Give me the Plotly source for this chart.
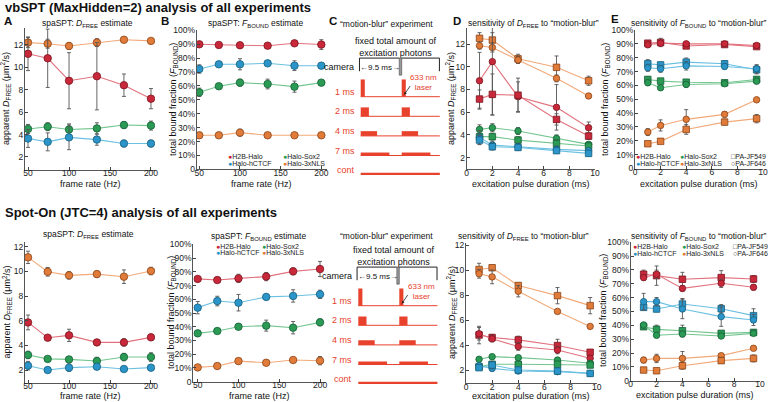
import plotly.graph_objects as go

W, H = 768, 402
FONT = "Liberation Sans, Arial, Helvetica, sans-serif"

# ---------------- data ----------------
frame_rate_hz = [50, 74, 100, 134, 167, 200]
pulse_ms = [1, 2, 4, 7, 9.5]
frame_ticks = [50, 100, 150, 200]
pulse_ticks = [0, 2, 4, 6, 8, 10]
dfree_ticks = [2, 4, 6, 8, 10, 12]
frac_ticks = [0, 10, 20, 30, 40, 50, 60, 70, 80, 90, 100]
frac_ticktext = ["0", "10%", "20%", "30%", "40%", "50%", "60%", "70%", "80%", "90%", "100%"]

# vbSPT, panel A (D_FREE, um^2/s)
vbA_h2b = [11.2, 10.8, 8.8, 9.2, 8.4, 7.2];        vbA_h2b_err = [1.5, 2.6, 2.5, 3.0, 1.0, 0.9]
vbA_nls = [12.2, 12.1, 11.9, 12.2, 12.45, 12.35];  vbA_nls_err = [0.45, 0.4, 0.3, 0.35, 0.15, 0.1]
vbA_sox = [4.5, 4.7, 4.45, 4.55, 4.85, 4.8];       vbA_sox_err = [0.4, 0.35, 0.5, 0.5, 0.3, 0.4]
vbA_ctcf = [3.65, 3.35, 3.75, 3.55, 3.2, 3.2];     vbA_ctcf_err = [0.8, 0.8, 1.1, 0.5, 0.3, 0.3]
# vbSPT, panel B (F_BOUND, %)
vbB_h2b = [90, 89.5, 89.3, 89, 90.7, 89.8];        vbB_h2b_err = [1, 1, 1, 2, 1, 3.5]
vbB_ctcf = [72.2, 75.6, 75.6, 76.3, 74.6, 74.6];   vbB_ctcf_err = [3, 1.5, 4, 1, 3.5, 2]
vbB_sox = [55.4, 59.8, 62.4, 61.4, 59.5, 62.4];    vbB_sox_err = [3, 1, 2.5, 3.5, 4, 1.5]
vbB_nls = [24.5, 24.5, 26.4, 24.5, 24.5, 24.5];    vbB_nls_err = [0.5, 0.5, 2.5, 0.5, 0.5, 0.5]
# vbSPT, panel D (D_FREE vs pulse)  sq = PA-JF549, ci = PA-JF646
vbD_nls_sq = [12.5, 12.35, 10.7, 9.95, 8.77];  vbD_nls_sq_err = [0.5, 0.65, 0.4, 1.0, 0.4]
vbD_nls_ci = [11.85, 11.7, 10.6, 8.98, 7.43];  vbD_nls_ci_err = [0.3, 0.4, 0.3, 0.3, 0.15]
vbD_h2b_ci = [8.77, 10.45, 7.37, 6.43, 4.64];  vbD_h2b_ci_err = [2.5, 4.7, 1.3, 2.0, 0.5]
vbD_h2b_sq = [7.16, 7.57, 7.5, 5.37, 3.9];     vbD_h2b_sq_err = [0.8, 1.8, 1.5, 0.5, 0.3]
vbD_sox_ci = [4.49, 4.64, 4.35, 3.7, 3.17];    vbD_sox_ci_err = [0.4, 0.35, 0.3, 0.3, 0.2]
vbD_sox_sq = [3.85, 3.85, 3.55, 3.26, 3.03];   vbD_sox_sq_err = [0.3, 0.3, 0.3, 0.3, 0.2]
vbD_ctcf_ci = [3.79, 3.11, 2.97, 2.73, 2.62];  vbD_ctcf_ci_err = [0.6, 0.3, 0.3, 0.3, 0.2]
vbD_ctcf_sq = [3.55, 2.97, 2.9, 2.62, 2.38];   vbD_ctcf_sq_err = [0.4, 0.3, 0.2, 0.2, 0.2]
# vbSPT, panel E (F_BOUND vs pulse)
vbE_h2b_sq = [90.5, 91, 88.5, 89.5, 88.0];     vbE_h2b_sq_err = [1.5, 3, 1.5, 1.5, 1]
vbE_h2b_ci = [89.3, 90.5, 90, 90, 88.8];       vbE_h2b_ci_err = [1.5, 1, 1.5, 1.5, 1.5]
vbE_ctcf_sq = [75.6, 74.8, 76.8, 75.6, 71.3];  vbE_ctcf_sq_err = [3, 2, 3, 2, 3]
vbE_ctcf_ci = [72.7, 72, 74.1, 73.7, 72];      vbE_ctcf_ci_err = [2.5, 2.5, 3, 2, 3]
vbE_sox_sq = [64.3, 63.1, 62.3, 61.9, 64.3];   vbE_sox_sq_err = [2, 1.5, 2, 1.5, 2]
vbE_sox_ci = [61.9, 58.3, 60.7, 61.2, 63.1];   vbE_sox_ci_err = [2, 1.5, 2, 1, 2]
vbE_nls_ci = [26.3, 31.1, 35.5, 39.1, 49.6];   vbE_nls_ci_err = [2.5, 4, 7, 2, 1]
vbE_nls_sq = [17.9, 19.6, 28.2, 33.5, 36];     vbE_nls_sq_err = [1, 1, 3.5, 2, 3]

# Spot-On, panel A
soA_nls = [11.14, 9.97, 9.68, 9.78, 9.57, 10.03];  soA_nls_err = [0.5, 0.35, 0.3, 0.25, 0.55, 0.3]
soA_h2b = [5.86, 4.62, 4.81, 4.24, 4.24, 4.65];    soA_h2b_err = [0.6, 0.1, 0.5, 0.2, 0.3, 0.25]
soA_sox = [3.22, 2.9, 2.86, 2.73, 3.05, 3.05];     soA_sox_err = [0.3, 0.2, 0.2, 0.3, 0.3, 0.35]
soA_ctcf = [2.35, 2.0, 2.19, 2.27, 2.08, 2.19];    soA_ctcf_err = [0.35, 0.2, 0.3, 0.2, 0.15, 0.15]
# Spot-On, panel B
soB_h2b = [74.8, 74, 75.2, 76.5, 80.3, 82];        soB_h2b_err = [1.5, 1.5, 3, 3, 2.5, 5.5]
soB_ctcf = [53.9, 58.7, 57.5, 61.7, 62.4, 63.6];   soB_ctcf_err = [4.5, 3.5, 6, 2, 4.5, 3]
soB_sox = [35.2, 36.9, 40, 40.8, 39.3, 43.2];      soB_sox_err = [2, 1, 2, 4, 4.5, 2.5]
soB_nls = [10.4, 11.4, 15, 13.8, 15.8, 15.3];      soB_nls_err = [1, 1.5, 2, 1, 1.5, 3]
# Spot-On, panel D
soD_nls_sq = [10.04, 10.18, 8.76, 7.95, 7.15]; soD_nls_sq_err = [0.5, 0.2, 0.2, 0.65, 0.65]
soD_nls_ci = [9.7, 9.45, 8.3, 6.69, 5.49];     soD_nls_ci_err = [0.35, 0.55, 0.45, 0.1, 0.1]
soD_h2b_sq = [4.8, 4.6, 4.41, 3.96, 3.42];     soD_h2b_sq_err = [0.7, 0.25, 0.3, 0.5, 0.2]
soD_h2b_ci = [4.9, 4.5, 3.88, 3.6, 2.94];      soD_h2b_ci_err = [0.5, 0.25, 0.3, 0.3, 0.2]
soD_sox_ci = [2.86, 3.07, 2.99, 2.8, 2.54];    soD_sox_ci_err = [0.15, 0.15, 0.15, 0.15, 0.1]
soD_sox_sq = [2.27, 2.46, 2.46, 2.46, 2.4];    soD_sox_sq_err = [0.15, 0.15, 0.15, 0.15, 0.1]
soD_ctcf_ci = [2.35, 2.13, 1.92, 1.87, 1.73];  soD_ctcf_ci_err = [0.2, 0.2, 0.15, 0.15, 0.1]
soD_ctcf_sq = [2.19, 2.4, 2.0, 1.92, 1.73];    soD_ctcf_sq_err = [0.2, 0.3, 0.15, 0.15, 0.1]
# Spot-On, panel E
soE_h2b_sq = [76.9, 75.9, 73.3, 74.5, 73.5];   soE_h2b_sq_err = [3, 7, 5, 5, 2.5]
soE_h2b_ci = [74.5, 76.9, 66.7, 70.4, 67.5];   soE_h2b_ci_err = [2, 3, 2, 3, 2]
soE_ctcf_sq = [53, 51.8, 55.4, 52, 47];        soE_ctcf_sq_err = [2, 2, 4, 3, 5]
soE_ctcf_ci = [57.1, 57.1, 51.8, 46.3, 43.9];  soE_ctcf_ci_err = [6, 3, 7, 7, 4]
soE_sox_sq = [39, 37.1, 36.1, 34.2, 34.9];     soE_sox_sq_err = [1.5, 3, 4, 2, 2]
soE_sox_ci = [40.2, 32.8, 33.7, 32.3, 34.2];   soE_sox_ci_err = [2, 1, 2, 1.5, 1.5]
soE_nls_ci = [14.9, 16.1, 16.1, 18.1, 23.4];   soE_nls_ci_err = [2, 3, 5, 1, 1.5]
soE_nls_sq = [7.7, 7.2, 10.8, 14.5, 16.1];     soE_nls_sq_err = [1, 1.5, 2.5, 2, 2.5]

# motion-blur schematic
schematic_pulses_ms = [1, 2, 4, 7]
schematic_labels = ["1 ms", "2 ms", "4 ms", "7 ms", "cont"]
frame_period_ms = 10.0
exposure_ms = 9.5
n_frames = 2

# ---------------- style ----------------
FILL = {"h2b": "#c9283a", "ctcf": "#2b94c8", "sox": "#2a9a55", "nls": "#e07b39"}
EDGE = {"h2b": "#7a1520", "ctcf": "#15607f", "sox": "#156035", "nls": "#8a4418"}
LINE = {"h2b": "#e2727e", "ctcf": "#6cc0e2", "sox": "#74c690", "nls": "#f2aa7a"}
PULSE = "#e8412c"
TICK = 8.5

fig = go.Figure()


def px_x(a, b):
    return [a / W, b / W]


def px_y(top, bottom):
    return [1 - bottom / H, 1 - top / H]


def add(ax, x, y, err, key, symbol="circle", size=7.5):
    fig.add_trace(go.Scatter(
        x=x, y=y, mode="lines+markers", xaxis="x" + ax, yaxis="y" + ax,
        line=dict(color=LINE[key], width=1.1),
        marker=dict(symbol=symbol, size=size, color=FILL[key], line=dict(color=EDGE[key], width=0.8)),
        error_y=dict(type="data", array=err, color="#555555", thickness=0.9, width=2),
        showlegend=False, hoverinfo="skip", cliponaxis=True))


# top A
for y, e, k in [(vbA_nls, vbA_nls_err, "nls"), (vbA_h2b, vbA_h2b_err, "h2b"),
                (vbA_sox, vbA_sox_err, "sox"), (vbA_ctcf, vbA_ctcf_err, "ctcf")]:
    add("", frame_rate_hz, y, e, k)
# top B
for y, e, k in [(vbB_h2b, vbB_h2b_err, "h2b"), (vbB_ctcf, vbB_ctcf_err, "ctcf"),
                (vbB_sox, vbB_sox_err, "sox"), (vbB_nls, vbB_nls_err, "nls")]:
    add("2", frame_rate_hz, y, e, k)
# top D
for y, e, k, s in [(vbD_nls_sq, vbD_nls_sq_err, "nls", "square"), (vbD_nls_ci, vbD_nls_ci_err, "nls", "circle"),
                   (vbD_h2b_ci, vbD_h2b_ci_err, "h2b", "circle"), (vbD_h2b_sq, vbD_h2b_sq_err, "h2b", "square"),
                   (vbD_sox_ci, vbD_sox_ci_err, "sox", "circle"), (vbD_sox_sq, vbD_sox_sq_err, "sox", "square"),
                   (vbD_ctcf_ci, vbD_ctcf_ci_err, "ctcf", "circle"), (vbD_ctcf_sq, vbD_ctcf_sq_err, "ctcf", "square")]:
    add("3", pulse_ms, y, e, k, s, 6.5)
# top E
for y, e, k, s in [(vbE_h2b_sq, vbE_h2b_sq_err, "h2b", "square"), (vbE_h2b_ci, vbE_h2b_ci_err, "h2b", "circle"),
                   (vbE_ctcf_sq, vbE_ctcf_sq_err, "ctcf", "square"), (vbE_ctcf_ci, vbE_ctcf_ci_err, "ctcf", "circle"),
                   (vbE_sox_sq, vbE_sox_sq_err, "sox", "square"), (vbE_sox_ci, vbE_sox_ci_err, "sox", "circle"),
                   (vbE_nls_ci, vbE_nls_ci_err, "nls", "circle"), (vbE_nls_sq, vbE_nls_sq_err, "nls", "square")]:
    add("4", pulse_ms, y, e, k, s, 6.5)
# bottom A
for y, e, k in [(soA_nls, soA_nls_err, "nls"), (soA_h2b, soA_h2b_err, "h2b"),
                (soA_sox, soA_sox_err, "sox"), (soA_ctcf, soA_ctcf_err, "ctcf")]:
    add("5", frame_rate_hz, y, e, k)
# bottom B
for y, e, k in [(soB_h2b, soB_h2b_err, "h2b"), (soB_ctcf, soB_ctcf_err, "ctcf"),
                (soB_sox, soB_sox_err, "sox"), (soB_nls, soB_nls_err, "nls")]:
    add("6", frame_rate_hz, y, e, k)
# bottom D
for y, e, k, s in [(soD_nls_sq, soD_nls_sq_err, "nls", "square"), (soD_nls_ci, soD_nls_ci_err, "nls", "circle"),
                   (soD_h2b_sq, soD_h2b_sq_err, "h2b", "square"), (soD_h2b_ci, soD_h2b_ci_err, "h2b", "circle"),
                   (soD_sox_ci, soD_sox_ci_err, "sox", "circle"), (soD_sox_sq, soD_sox_sq_err, "sox", "square"),
                   (soD_ctcf_ci, soD_ctcf_ci_err, "ctcf", "circle"), (soD_ctcf_sq, soD_ctcf_sq_err, "ctcf", "square")]:
    add("7", pulse_ms, y, e, k, s, 6.5)
# bottom E
for y, e, k, s in [(soE_h2b_sq, soE_h2b_sq_err, "h2b", "square"), (soE_h2b_ci, soE_h2b_ci_err, "h2b", "circle"),
                   (soE_ctcf_sq, soE_ctcf_sq_err, "ctcf", "square"), (soE_ctcf_ci, soE_ctcf_ci_err, "ctcf", "circle"),
                   (soE_sox_sq, soE_sox_sq_err, "sox", "square"), (soE_sox_ci, soE_sox_ci_err, "sox", "circle"),
                   (soE_nls_ci, soE_nls_ci_err, "nls", "circle"), (soE_nls_sq, soE_nls_sq_err, "nls", "square")]:
    add("8", pulse_ms, y, e, k, s, 6.5)

# ---------------- axes ----------------
def axis(domain, rng, tickvals, anchor, ticktext=None, standoff=0):
    d = dict(domain=domain, range=rng, tickvals=tickvals, anchor=anchor,
             ticks="inside", ticklen=3, tickwidth=0.8, tickcolor="#444",
             showline=True, linecolor="#555", linewidth=1, showgrid=False, zeroline=False,
             tickfont=dict(size=TICK, color="#222", family=FONT), automargin=False, fixedrange=True,
             ticklabelstandoff=standoff)
    if ticktext is not None:
        d["ticktext"] = ticktext
    return d


layout_axes = {}
specs = [
    ("", (25, 155), (28, 170), [46.3, 204.9], [0.84, 13.5], frame_ticks, dfree_ticks, None),
    ("2", (196.7, 326.7), (30.4, 169.3), [46.8, 206.6], [0, 100], frame_ticks, frac_ticks, frac_ticktext),
    ("3", (466.7, 595), (28, 169.3), [0, 10], [0.98, 13.41], pulse_ticks, dfree_ticks, None),
    ("4", (635, 763), (30, 168.5), [0, 10], [0, 100], pulse_ticks, frac_ticks, frac_ticktext),
    ("5", (25, 155), (241.7, 382.7), [46.3, 204.9], [0.97, 12.41], frame_ticks, dfree_ticks, None),
    ("6", (193.3, 325), (244.3, 381.7), [44.6, 206.1], [0, 100], frame_ticks, frac_ticks, frac_ticktext),
    ("7", (466, 596.7), (243, 383.3), [0, 10], [0.94, 12.16], pulse_ticks, dfree_ticks, None),
    ("8", (630.7, 760), (242.3, 380.7), [0, 10], [0, 100], pulse_ticks, frac_ticks, frac_ticktext),
]
for n, xd, yd, xr, yr, xt, yt, ytt in specs:
    layout_axes["xaxis" + n] = axis(px_x(*xd), xr, xt, "y" + n, standoff=-5)
    layout_axes["yaxis" + n] = axis(px_y(*yd), yr, yt, "x" + n, ytt, standoff=-1)

# schematic axes (ms horizontally, pulse rows vertically)
MS_PX = 4.1
ROW_PX = 19.6
for n, t0px, row0px in [("9", 360.7, 96.7), ("10", 358.3, 305.7)]:
    xl, xr = 335.0 + (t0px - 360.7), 450.0 + (t0px - 360.7)
    yt, yb = row0px - 66.7, row0px + 88.3
    layout_axes["xaxis" + n] = dict(domain=px_x(xl, xr), range=[(xl - t0px) / MS_PX, (xr - t0px) / MS_PX],
                                    visible=False, anchor="y" + n, fixedrange=True)
    layout_axes["yaxis" + n] = dict(domain=px_y(yt, yb), range=[(yb - row0px) / ROW_PX, (yt - row0px) / ROW_PX],
                                    visible=False, anchor="x" + n, fixedrange=True)

shapes = []
annotations = []
t_end = n_frames * frame_period_ms - 0.7
for n in ["9", "10"]:
    xr_, yr_ = "x" + n, "y" + n
    for i, d in enumerate(schematic_pulses_ms):
        shapes.append(dict(type="line", xref=xr_, yref=yr_, x0=0, x1=t_end, y0=i, y1=i,
                           line=dict(color=PULSE, width=1)))
        h = 0.85 / d + 0.03
        for f in range(n_frames):
            t0 = f * frame_period_ms
            shapes.append(dict(type="rect", xref=xr_, yref=yr_, x0=t0, x1=t0 + d, y0=i, y1=i - h,
                               fillcolor=PULSE, line=dict(width=0)))
    ic = len(schematic_pulses_ms)
    shapes.append(dict(type="rect", xref=xr_, yref=yr_, x0=0, x1=t_end, y0=ic, y1=ic - 0.12,
                       fillcolor=PULSE, line=dict(width=0)))
    for i, lab in enumerate(schematic_labels):
        annotations.append(dict(xref=xr_, yref=yr_, x=-1.0, y=i - 0.25, text=lab, showarrow=False,
                                xanchor="right", yanchor="middle", font=dict(size=9, color=PULSE, family=FONT)))
    # camera frames
    top_row, tick_row = -1.97, -1.3
    shapes.append(dict(type="path", xref=xr_, yref=yr_,
                       path=f"M -0.3 {tick_row} L -0.3 {top_row} L {exposure_ms - 0.1} {top_row}",
                       line=dict(color="#222", width=1)))
    shapes.append(dict(type="rect", xref=xr_, yref=yr_, x0=exposure_ms - 0.1, x1=frame_period_ms,
                       y0=top_row, y1=-1.1, fillcolor="#9a9a9a", line=dict(color="#444", width=0.6)))
    shapes.append(dict(type="path", xref=xr_, yref=yr_,
                       path=f"M {frame_period_ms} {top_row} L {frame_period_ms + exposure_ms - 0.3} {top_row} "
                            f"L {frame_period_ms + exposure_ms - 0.3} {tick_row}",
                       line=dict(color="#222", width=1)))
    annotations.append(dict(xref=xr_, yref=yr_, x=-1.1, y=-1.5, text="camera", showarrow=False,
                            xanchor="right", yanchor="middle", font=dict(size=9, color="#111", family=FONT)))
    annotations.append(dict(xref=xr_, yref=yr_, x=exposure_ms / 2, y=-1.5, text="←9.5 ms→", showarrow=False,
                            xanchor="center", yanchor="middle", font=dict(size=8, color="#111", family=FONT)))
    annotations.append(dict(xref=xr_, yref=yr_, x=8.6, y=-2.52,
                            text="fixed total amount of<br>excitation photons", showarrow=False,
                            xanchor="center", yanchor="middle", font=dict(size=9, color="#111", family=FONT)))
    annotations.append(dict(xref=xr_, yref=yr_, x=15.4, y=-0.73, text="633 nm<br>laser", showarrow=False,
                            xanchor="center", yanchor="middle", font=dict(size=8, color=PULSE, family=FONT)))
    annotations.append(dict(xref=xr_, yref=yr_, x=10.6, y=-0.1, ax=12.3, ay=-0.62, axref=xr_, ayref=yr_,
                            text="", showarrow=True, arrowhead=2, arrowsize=0.7, arrowwidth=0.8,
                            arrowcolor="#222"))


def txt(x, y, text, size=9, anchor="center", color="#111", angle=0):
    annotations.append(dict(xref="paper", yref="paper", x=x / W, y=1 - y / H, text=text, showarrow=False,
                            xanchor=anchor, yanchor="middle", textangle=angle,
                            font=dict(size=size, color=color, family=FONT)))


# headings
txt(3, 7.5, "<b>vbSPT (MaxHidden=2) analysis of all experiments</b>", 13, "left")
txt(3, 212.5, "<b>Spot-On (JTC=4) analysis of all experiments</b>", 13, "left")
for x, y, L in [(8, 21, "A"), (165, 21, "B"), (333, 21, "C"), (457, 21, "D"), (615, 19, "E")]:
    txt(x, y, f"<b>{L}</b>", 11.5)

DF = "<i>D</i><sub>FREE</sub>"
FB = "<i>F</i><sub>BOUND</sub>"
ST = 8.5
# subtitles
txt(87, 24, f"spaSPT: {DF} estimate", ST)
txt(255, 24, f"spaSPT: {FB} estimate", ST)
txt(386, 24, "“motion-blur” experiment", ST)
txt(533, 24, f"sensitivity of {DF} to “motion-blur”", ST)
txt(698, 24, f"sensitivity of {FB} to “motion-blur”", ST)
txt(88, 235, f"spaSPT: {DF} estimate", ST)
txt(258, 236, f"spaSPT: {FB} estimate", ST)
txt(386, 236, "“motion-blur” experiment", ST)
txt(523, 236, f"sensitivity of {DF} to “motion-blur”", ST)
txt(698, 236, f"sensitivity of {FB} to “motion-blur”", ST)

# axis titles
YD = f"apparent {DF} (μm<sup>2</sup>/s)"
YF = f"total bound fraction ({FB})"
txt(6, 99, YD, angle=-90)
txt(174, 100, YF, angle=-90)
txt(451, 99, YD, angle=-90)
txt(606, 100, YF, angle=-90)
txt(6.5, 312, YD, angle=-90)
txt(171, 313, YF, angle=-90)
txt(451, 313, YD, angle=-90)
txt(603, 311, YF, angle=-90)
txt(90, 184, "frame rate (Hz)")
txt(261, 184, "frame rate (Hz)")
txt(531, 184, "excitation pulse duration (ms)")
txt(699, 184, "excitation pulse duration (ms)")
txt(90, 396, "frame rate (Hz)")
txt(259, 396, "frame rate (Hz)")
txt(531, 396, "excitation pulse duration (ms)")
txt(695, 395, "excitation pulse duration (ms)")


def dot(key, name, sym="●"):
    return f"<span style='color:{FILL[key]}'>{sym}</span>{name}"


def legend(x1, x2, y1, y2, x3=None):
    entries = [(x1, y1, dot("h2b", "H2B-Halo")), (x2, y1, dot("sox", "Halo-Sox2")),
               (x1, y2, dot("ctcf", "Halo-hCTCF")), (x2, y2, dot("nls", "Halo-3xNLS"))]
    if x3 is not None:
        entries += [(x3, y1, "<span style='color:#333'>□</span>PA-JF549"),
                    (x3, y2, "<span style='color:#333'>○</span>PA-JF646")]
    for x, y, t in entries:
        txt(x, y, t, 7, "left", color="#222")


legend(226, 281, 156.7, 163.3)
legend(214, 260, 246, 252.7)
legend(634, 678, 156.7, 163.3, 729)
legend(631, 680, 246, 253.3, 731)

fig.update_layout(width=W, height=H, autosize=False, margin=dict(l=0, r=0, t=0, b=0),
                  paper_bgcolor="white", plot_bgcolor="white", showlegend=False,
                  font=dict(family=FONT, size=9, color="#222"),
                  shapes=shapes, annotations=annotations, **layout_axes)

fig.write_html("out.html", config={"displayModeBar": False},
               post_script="document.body.style.margin='0px';document.body.style.overflow='hidden';")
